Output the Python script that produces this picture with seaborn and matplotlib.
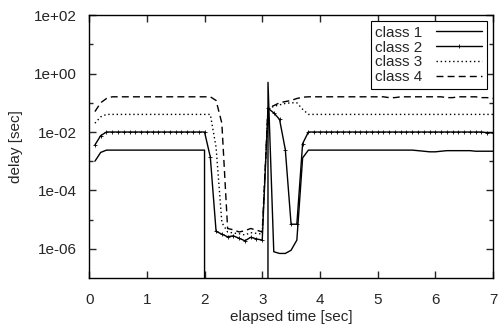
import matplotlib
matplotlib.use("Agg")
import matplotlib.pyplot as plt
import pandas as pd
import seaborn as sns

# sample times [sec]
elapsed = [0.1, 0.2, 0.3, 0.4, 0.5, 0.6, 0.7, 0.8, 0.9, 1.0,
           1.1, 1.2, 1.3, 1.4, 1.5, 1.6, 1.7, 1.8, 1.9, 2.0,
           2.1, 2.2, 2.3, 2.4, 2.5, 2.6, 2.7, 2.8, 2.9, 3.0,
           3.1, 3.2, 3.3, 3.4, 3.5, 3.6, 3.7, 3.8, 3.9, 4.0,
           4.1, 4.2, 4.3, 4.4, 4.5, 4.6, 4.7, 4.8, 4.9, 5.0,
           5.1, 5.2, 5.3, 5.4, 5.5, 5.6, 5.7, 5.8, 5.9, 6.0,
           6.1, 6.2, 6.3, 6.4, 6.5, 6.6, 6.7, 6.8, 6.9, 7.0]

# delay per class [sec]; 0 = no delay measured (falls below the axis)
class1 = [1.0e-3, 2.0e-3, 2.4e-3, 2.4e-3, 2.4e-3, 2.4e-3, 2.4e-3, 2.4e-3, 2.4e-3, 2.4e-3,
          2.4e-3, 2.4e-3, 2.4e-3, 2.4e-3, 2.4e-3, 2.4e-3, 2.4e-3, 2.4e-3, 2.4e-3, 2.4e-3,
          0, 0, 0, 0, 0, 0, 0, 0, 0, 0,
          0.5, 8e-7, 7e-7, 7e-7, 9e-7, 2e-6, 1.3e-3, 2.4e-3, 2.4e-3, 2.4e-3,
          2.4e-3, 2.4e-3, 2.4e-3, 2.4e-3, 2.4e-3, 2.4e-3, 2.4e-3, 2.4e-3, 2.4e-3, 2.4e-3,
          2.4e-3, 2.4e-3, 2.4e-3, 2.4e-3, 2.4e-3, 2.4e-3, 2.3e-3, 2.2e-3, 2.1e-3, 2.1e-3,
          2.2e-3, 2.3e-3, 2.3e-3, 2.3e-3, 2.3e-3, 2.3e-3, 2.2e-3, 2.2e-3, 2.2e-3, 2.2e-3]

class2 = [3.6e-3, 7.5e-3, 1.0e-2, 1.0e-2, 1.0e-2, 1.0e-2, 1.0e-2, 1.0e-2, 1.0e-2, 1.0e-2,
          1.0e-2, 1.0e-2, 1.0e-2, 1.0e-2, 1.0e-2, 1.0e-2, 1.0e-2, 1.0e-2, 1.0e-2, 1.0e-2,
          1.4e-3, 4.0e-6, 3.2e-6, 2.6e-6, 2.8e-6, 2.3e-6, 1.9e-6, 2.5e-6, 2.2e-6, 2.0e-6,
          6.5e-2, 4.5e-2, 2.7e-2, 2.5e-3, 7.0e-6, 7.0e-6, 4.0e-3, 1.0e-2, 1.0e-2, 1.0e-2,
          1.0e-2, 1.0e-2, 1.0e-2, 1.0e-2, 1.0e-2, 1.0e-2, 1.0e-2, 1.0e-2, 1.0e-2, 1.0e-2,
          1.0e-2, 1.0e-2, 1.0e-2, 1.0e-2, 1.0e-2, 1.0e-2, 1.0e-2, 1.0e-2, 1.0e-2, 1.0e-2,
          1.0e-2, 1.0e-2, 1.0e-2, 1.0e-2, 1.0e-2, 1.0e-2, 1.0e-2, 1.0e-2, 9.5e-3, 9.5e-3]

class3 = [0.020, 0.033, 0.040, 0.040, 0.040, 0.040, 0.040, 0.040, 0.040, 0.040,
          0.040, 0.040, 0.040, 0.040, 0.040, 0.040, 0.040, 0.040, 0.040, 0.040,
          0.040, 3.0e-3, 8.0e-6, 3.8e-6, 3.5e-6, 3.3e-6, 3.0e-6, 3.6e-6, 3.4e-6, 3.2e-6,
          0.065, 0.075, 0.085, 0.095, 0.100, 0.100, 0.060, 0.040, 0.040, 0.040,
          0.040, 0.040, 0.040, 0.040, 0.040, 0.040, 0.040, 0.040, 0.040, 0.040,
          0.040, 0.040, 0.040, 0.040, 0.040, 0.040, 0.040, 0.040, 0.040, 0.040,
          0.040, 0.040, 0.040, 0.040, 0.040, 0.040, 0.040, 0.040, 0.040, 0.040]

class4 = [0.05, 0.10, 0.14, 0.16, 0.16, 0.16, 0.16, 0.16, 0.16, 0.16,
          0.16, 0.16, 0.16, 0.16, 0.16, 0.16, 0.16, 0.16, 0.16, 0.16,
          0.16, 0.12, 0.02, 5.0e-6, 4.5e-6, 3.8e-6, 4.2e-6, 5.0e-6, 4.4e-6, 3.8e-6,
          0.065, 0.08, 0.10, 0.11, 0.12, 0.14, 0.155, 0.16, 0.16, 0.16,
          0.16, 0.16, 0.16, 0.16, 0.16, 0.16, 0.16, 0.16, 0.16, 0.16,
          0.16, 0.15, 0.15, 0.16, 0.16, 0.16, 0.16, 0.16, 0.16, 0.16,
          0.16, 0.15, 0.15, 0.16, 0.16, 0.16, 0.16, 0.15, 0.15, 0.14]

class_names = ["class 1", "class 2", "class 3", "class 4"]
x_ticks = [0, 1, 2, 3, 4, 5, 6, 7]
y_major = [1e2, 1e0, 1e-2, 1e-4, 1e-6]
y_major_labels = ["1e+02", "1e+00", "1e-02", "1e-04", "1e-06"]
y_minor = [1e1, 1e-1, 1e-3, 1e-5]

sns.set_style("ticks")
plt.rcParams["font.family"] = ["Liberation Sans", "DejaVu Sans"]

df = pd.DataFrame({"elapsed": elapsed, "class 1": class1, "class 2": class2,
                   "class 3": class3, "class 4": class4})

fig = plt.figure(figsize=(4.98, 3.28), dpi=100)
ax = fig.add_axes([0.179, 0.152, 0.811, 0.802])

styles = {
    "class 1": dict(linestyle="-"),
    "class 2": dict(linestyle="-", marker="+", markersize=3,
                    markeredgewidth=0.6, markeredgecolor="black"),
    "class 3": dict(linestyle=(0, (1, 2))),
    "class 4": dict(linestyle=(0, (5, 3))),
}
for name in class_names:
    sns.lineplot(data=df, x="elapsed", y=name, ax=ax, color="black",
                 linewidth=1.0, label=name, **styles[name])

ax.set_yscale("log", nonpositive="clip")
ax.set_xlim(0, 7)
ax.set_ylim(1e-7, 1e2)
ax.set_xticks(x_ticks)
ax.set_xticklabels([str(t) for t in x_ticks])
ax.set_yticks(y_major)
ax.set_yticklabels(y_major_labels)
ax.set_yticks(y_minor, labels=["" for _ in y_minor], minor=True)
ax.tick_params(axis="both", which="major", direction="in", length=5, width=1,
               top=True, right=True, labelsize=11, pad=9)
ax.tick_params(axis="y", which="minor", direction="in", length=3, width=1,
               left=True, right=True)
ax.tick_params(axis="x", which="major", pad=11)
for s in ax.spines.values():
    s.set_linewidth(1.0)
    s.set_color("black")

ax.set_xlabel("elapsed time [sec]", fontsize=11, labelpad=2)
ax.set_ylabel("delay [sec]", fontsize=11, labelpad=8)

leg = ax.legend(loc="upper right", markerfirst=False, fontsize=11, frameon=True,
                fancybox=False, framealpha=1, edgecolor="black", numpoints=1,
                handlelength=3.0, handletextpad=0.9, labelspacing=0.05,
                borderpad=0.3, borderaxespad=0.4)
leg.get_frame().set_linewidth(0.8)

fig.savefig("out.png", dpi=100)
